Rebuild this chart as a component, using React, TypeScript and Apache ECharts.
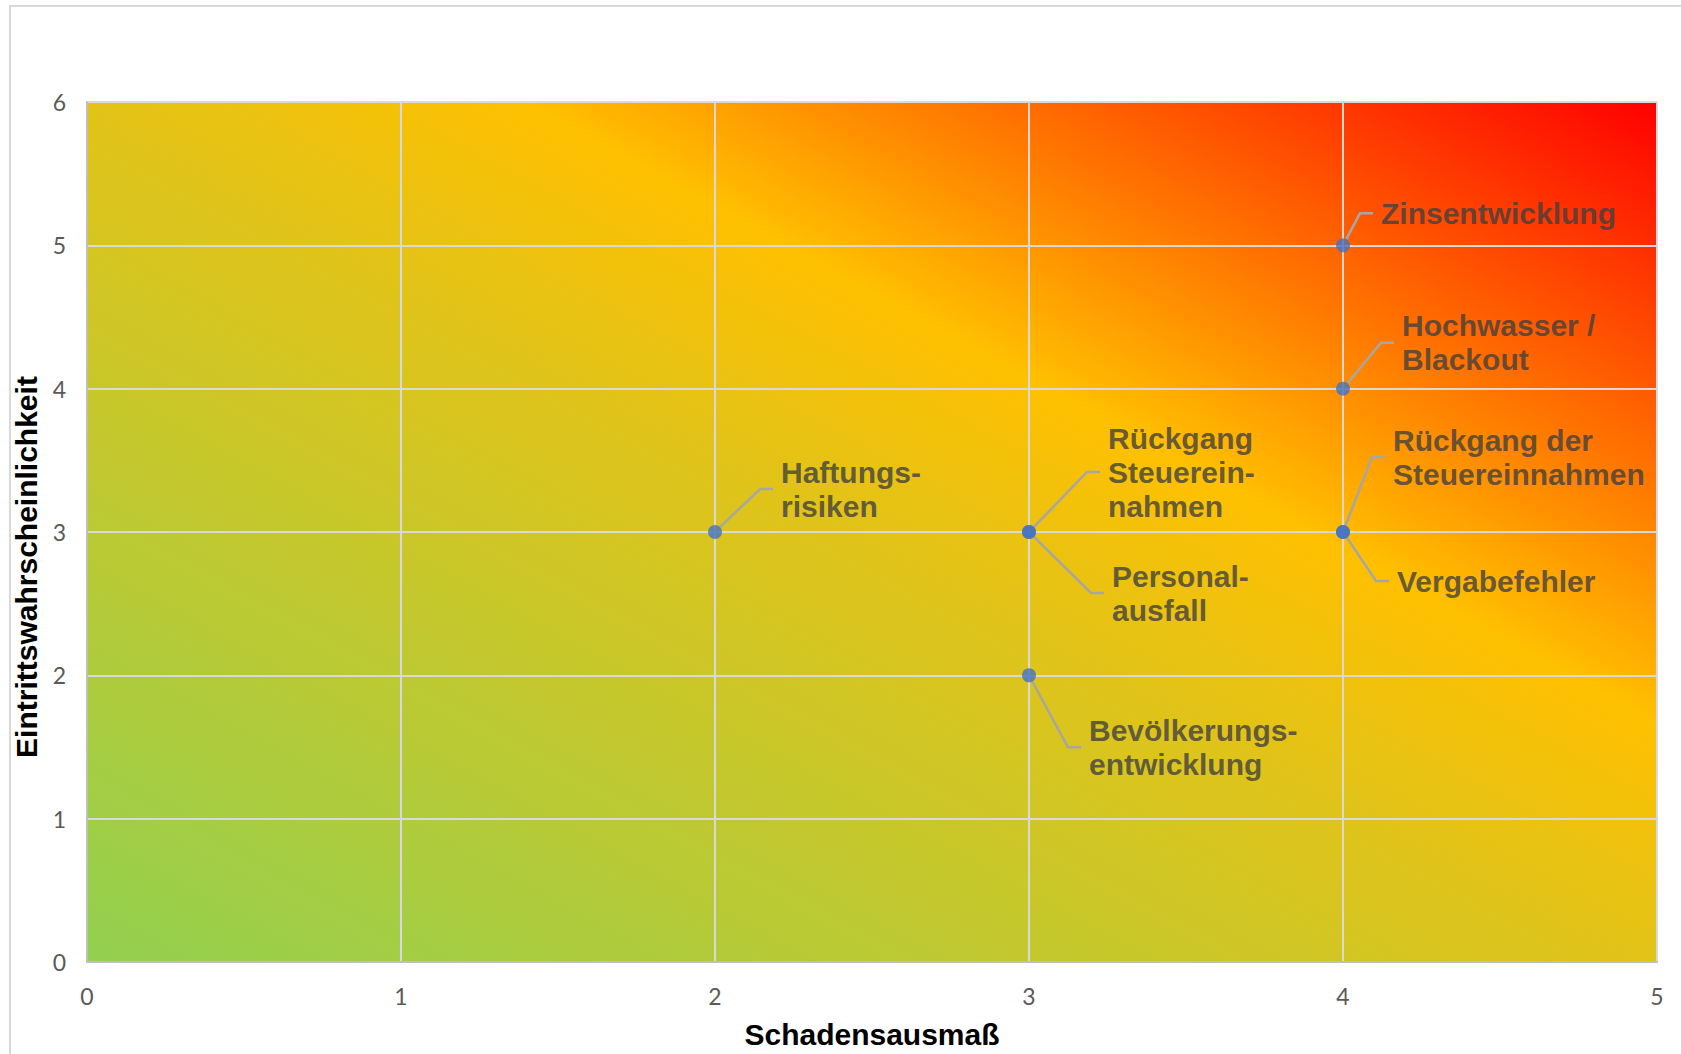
import React, { useEffect, useRef } from "react";
import * as echarts from "echarts";

// Risk register: impact (Schadensausmaß) vs. likelihood (Eintrittswahrscheinlichkeit)
const riskNames = [
  "Zinsentwicklung",
  "Hochwasser /\nBlackout",
  "Rückgang der\nSteuereinnahmen",
  "Vergabefehler",
  "Rückgang\nSteuerein-\nnahmen",
  "Personal-\nausfall",
  "Bevölkerungs-\nentwicklung",
  "Haftungs-\nrisiken",
];
const schadensausmass = [4, 4, 4, 4, 3, 3, 3, 2];
const eintrittswahrscheinlichkeit = [5, 4, 3, 3, 3, 3, 2, 3];

const xTicks = [0, 1, 2, 3, 4, 5];
const yTicks = [0, 1, 2, 3, 4, 5, 6];

const xTitle = "Schadensausmaß";
const yTitle = "Eintrittswahrscheinlichkeit";

// Label placement relative to each marker (pixels: right, down)
const labelShift: [number, number][] = [
  [23, -32],
  [44, -46],
  [35, -75],
  [39, 49],
  [64, -60],
  [68, 61],
  [45, 72],
  [51, -43],
];

const GRID = { left: 87, top: 102, right: 24, bottom: 90 };

export default function App() {
  const ref = useRef<HTMLDivElement>(null);

  useEffect(() => {
    if (!ref.current) return;
    const chart = echarts.init(ref.current, null, { renderer: "svg" });

    // Heat background: green (low risk) to red (high risk), diagonal
    const heat = new echarts.graphic.LinearGradient(0, 1, 1, 0, [
      { offset: 0, color: "#92D050" },
      { offset: 0.5, color: "#E2C318" },
      { offset: 0.64, color: "#FFC000" },
      { offset: 1, color: "#FF0000" },
    ]);

    const points = schadensausmass.map((x, i) => ({
      name: riskNames[i],
      value: [x, eintrittswahrscheinlichkeit[i]],
    }));

    chart.setOption({
      animation: false,
      backgroundColor: "#FFFFFF",
      graphic: [
        {
          type: "rect",
          shape: { x: 10, y: 6, width: 1720, height: 1100 },
          style: { fill: "none", stroke: "#D9D9D9", lineWidth: 2 },
          silent: true,
        },
      ],
      grid: {
        show: true,
        left: GRID.left,
        top: GRID.top,
        right: GRID.right,
        bottom: GRID.bottom,
        backgroundColor: heat,
        borderWidth: 0,
      },
      xAxis: {
        type: "value",
        min: xTicks[0],
        max: xTicks[xTicks.length - 1],
        interval: 1,
        name: xTitle,
        nameLocation: "middle",
        nameGap: 57,
        nameTextStyle: {
          fontFamily: "Liberation Sans",
          fontWeight: "bold",
          fontSize: 30,
          color: "#000000",
        },
        axisLine: { show: true, lineStyle: { color: "#BFBFBF", width: 2 } },
        axisTick: { show: false },
        axisLabel: {
          fontFamily: "Lato",
          fontSize: 23,
          color: "#595959",
          margin: 22,
        },
        splitLine: { show: true, lineStyle: { color: "#D9D9D9", width: 2 } },
      },
      yAxis: {
        type: "value",
        min: yTicks[0],
        max: yTicks[yTicks.length - 1],
        interval: 1,
        name: yTitle,
        nameLocation: "middle",
        nameGap: 40,
        nameTextStyle: {
          fontFamily: "Liberation Sans",
          fontWeight: "bold",
          fontSize: 30,
          color: "#000000",
          padding: [0, 70, 0, 0],
        },
        axisLine: { show: true, lineStyle: { color: "#BFBFBF", width: 2 } },
        axisTick: { show: false },
        axisLabel: {
          fontFamily: "Lato",
          fontSize: 23,
          color: "#595959",
          margin: 21,
        },
        splitLine: { show: true, lineStyle: { color: "#D9D9D9", width: 2 } },
      },
      series: [
        {
          type: "scatter",
          data: points,
          symbol: "circle",
          symbolSize: 14,
          itemStyle: { color: "#4472C4" },
          silent: true,
          emphasis: { disabled: true },
          label: {
            show: true,
            position: "right",
            distance: 0,
            formatter: (p: any) => p.name,
            fontFamily: "Liberation Sans",
            fontWeight: "bold",
            fontSize: 30,
            lineHeight: 34,
            color: "#404040",
            padding: [0, 0, 0, 8],
          },
          labelLine: {
            show: true,
            length2: 13,
            lineStyle: { color: "#A6A6A6", width: 2.5 },
          },
          labelLayout: (params: any) => {
            const s = labelShift[params.dataIndex] || [0, 0];
            return { dx: s[0], dy: s[1] };
          },
        },
      ],
    });

    return () => chart.dispose();
  }, []);

  return (
    <div
      ref={ref}
      style={{ position: "fixed", left: 0, top: 0, width: 1681, height: 1054 }}
    />
  );
}
